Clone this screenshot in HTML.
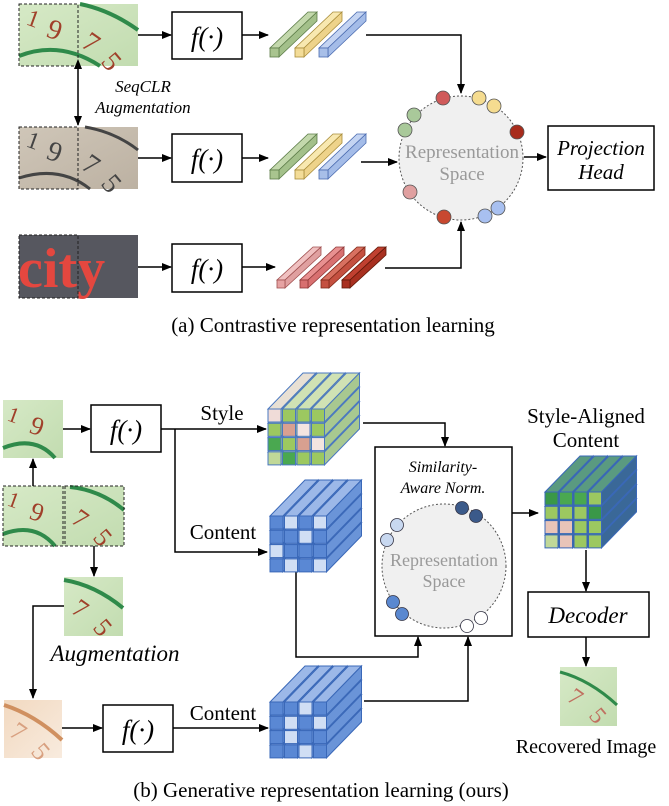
<!DOCTYPE html>
<html><head><meta charset="utf-8"><style>
html,body{margin:0;padding:0;background:#fff}
svg{display:block}
text{font-family:"Liberation Serif",serif}
.it{font-style:italic}
</style></head><body>
<svg width="669" height="806" viewBox="0 0 669 806" xmlns="http://www.w3.org/2000/svg" font-family="Liberation Serif, serif">
<defs>
<marker id="ar" markerWidth="10" markerHeight="8" refX="9" refY="4" orient="auto" markerUnits="userSpaceOnUse"><path d="M0,0 L10,4 L0,8 Z" fill="#000"/></marker>
<marker id="ars" markerWidth="10" markerHeight="8" refX="1" refY="4" orient="auto-start-reverse" markerUnits="userSpaceOnUse"><path d="M0,0 L10,4 L0,8 Z" fill="#000"/></marker>
<g id="pr"><polygon points="0,0 13,0 48,-36 35,-36" fill="var(--t)" stroke="var(--k)" stroke-width="1"/><polygon points="13,0 48,-36 48,-23 13,13" fill="var(--s)" stroke="var(--k)" stroke-width="1"/><rect width="13" height="13" fill="var(--f)" stroke="var(--k)" stroke-width="1"/></g>
<g id="bar"><polygon points="0,0 9,0 47,-36 38,-36" fill="var(--t)" stroke="var(--k)" stroke-width=".8"/><polygon points="9,0 47,-36 47,-27 9,9" fill="var(--s)" stroke="var(--k)" stroke-width=".8"/><rect width="9" height="9" fill="var(--f)" stroke="var(--k)" stroke-width=".8"/></g>
<g id="rbar"><polygon points="0,0 8,0 44,-33 36,-33" fill="var(--t)" stroke="var(--k)" stroke-width=".8"/><polygon points="8,0 44,-33 44,-25 8,8" fill="var(--s)" stroke="var(--k)" stroke-width=".8"/><rect width="8" height="8" fill="var(--f)" stroke="var(--k)" stroke-width=".8"/></g>
<linearGradient id="gimg" x1="0" y1="0" x2="1" y2="1"><stop offset="0" stop-color="#d6e9c6"/><stop offset="1" stop-color="#c2dcb0"/></linearGradient>
<linearGradient id="gimg2" x1="0" y1="0" x2="1" y2="1"><stop offset="0" stop-color="#cfc6b8"/><stop offset="1" stop-color="#bcb1a2"/></linearGradient>
<linearGradient id="gimg3" x1="0" y1="0" x2="1" y2="1"><stop offset="0" stop-color="#f2d9c0"/><stop offset="1" stop-color="#f8ebde"/></linearGradient>
</defs>

<!-- ===== Part (a) ===== -->
<rect x="19" y="4" width="119" height="62" fill="url(#gimg)"/>
<path d="M19,56 Q60,40 100,66" stroke="#2f8a4a" stroke-width="4" fill="none"/>
<path d="M80,4 Q110,10 138,30" stroke="#2f8a4a" stroke-width="4" fill="none"/>
<text x="25" y="24" font-size="24" fill="#a0402a" transform="rotate(20 25 24)">1</text>
<text x="45" y="36" font-size="28" fill="#a0402a" transform="rotate(20 45 36)">9</text>
<text x="80" y="46" font-size="28" fill="#a0402a" transform="rotate(35 80 46)">7</text>
<text x="100" y="62" font-size="28" fill="#a0402a" transform="rotate(50 100 62)">5</text>
<rect x="19" y="4" width="59" height="62" fill="none" stroke="#222" stroke-dasharray="3,2"/>
<rect x="19" y="127" width="119" height="62" fill="url(#gimg2)"/>
<path d="M19,178 Q60,165 90,189" stroke="#444" stroke-width="3" fill="none"/>
<path d="M85,127 Q115,132 138,150" stroke="#444" stroke-width="3" fill="none"/>
<text x="25" y="146" font-size="24" fill="#444" transform="rotate(20 25 146)">1</text>
<text x="45" y="158" font-size="28" fill="#444" transform="rotate(20 45 158)">9</text>
<text x="80" y="168" font-size="28" fill="#444" transform="rotate(35 80 168)">7</text>
<text x="100" y="184" font-size="28" fill="#444" transform="rotate(50 100 184)">5</text>
<rect x="19" y="127" width="59" height="62" fill="none" stroke="#222" stroke-dasharray="3,2"/>
<rect x="19" y="235" width="119" height="63" fill="#56575f"/>
<text x="18" y="287" font-size="56" font-weight="bold" fill="#e4473f">city</text>
<rect x="19" y="235" width="59" height="63" fill="none" stroke="#222" stroke-dasharray="3,2"/>

<line x1="78" y1="68" x2="78" y2="125" stroke="#000" stroke-width="1.5" marker-start="url(#ars)" marker-end="url(#ar)"/>
<text x="143" y="92" font-size="17" class="it" text-anchor="middle">SeqCLR</text>
<text x="143" y="113" font-size="17" class="it" text-anchor="middle">Augmentation</text>

<g fill="#fff" stroke="#000" stroke-width="1.5">
<rect x="172" y="12" width="70" height="47"/>
<rect x="172" y="134" width="70" height="48"/>
<rect x="172" y="244" width="70" height="48"/>
</g>
<g font-size="27" class="it" text-anchor="middle">
<text x="207" y="46">f(·)</text><text x="207" y="168">f(·)</text><text x="207" y="278">f(·)</text>
</g>
<g stroke="#000" stroke-width="1.5" fill="none" marker-end="url(#ar)">
<line x1="138" y1="35" x2="171" y2="35"/>
<line x1="242" y1="35" x2="268" y2="35"/>
<line x1="138" y1="158" x2="171" y2="158"/>
<line x1="242" y1="158" x2="268" y2="158"/>
<line x1="138" y1="267" x2="171" y2="267"/>
<line x1="242" y1="267" x2="275" y2="267"/>
<polyline points="366,35 461,35 461,93"/>
<line x1="361" y1="162" x2="397" y2="162"/>
<polyline points="385,268 461,268 461,222"/>
<line x1="524" y1="157" x2="546" y2="157"/>
</g>
<use href="#bar" x="270" y="48" style="--t:#c3d8ac;--s:#a3c08a;--f:#a9c48f;--k:#5c7c48"/>
<use href="#bar" x="295" y="48" style="--t:#f8e8b0;--s:#eed38a;--f:#f3dc98;--k:#a88c3a"/>
<use href="#bar" x="319" y="48" style="--t:#c4d4f2;--s:#a4bce8;--f:#a8bfe8;--k:#4a6bb0"/>
<use href="#bar" x="270" y="170" style="--t:#c3d8ac;--s:#a3c08a;--f:#a9c48f;--k:#5c7c48"/>
<use href="#bar" x="295" y="170" style="--t:#f8e8b0;--s:#eed38a;--f:#f3dc98;--k:#a88c3a"/>
<use href="#bar" x="319" y="170" style="--t:#c4d4f2;--s:#a4bce8;--f:#a8bfe8;--k:#4a6bb0"/>
<use href="#rbar" x="277" y="280" style="--t:#f0c0c0;--s:#e0a0a0;--f:#e6a3a3;--k:#a05050"/>
<use href="#rbar" x="300" y="280" style="--t:#e89090;--s:#d87070;--f:#d87070;--k:#903838"/>
<use href="#rbar" x="321" y="280" style="--t:#d87060;--s:#c45040;--f:#c45040;--k:#802818"/>
<use href="#rbar" x="342" y="280" style="--t:#c04030;--s:#a83020;--f:#a83020;--k:#601808"/>

<circle cx="461" cy="158" r="62" fill="#f0f0f0" stroke="#555" stroke-width="1" stroke-dasharray="2,2"/>
<text x="462" y="158" font-size="19" fill="#999" text-anchor="middle">Representation</text>
<text x="462" y="180" font-size="19" fill="#999" text-anchor="middle">Space</text>
<g stroke="#555" stroke-width=".8">
<circle cx="443" cy="98" r="7" fill="#d05a5a"/>
<circle cx="479" cy="98" r="7" fill="#f5dc90"/>
<circle cx="494" cy="106" r="7" fill="#f5dc90"/>
<circle cx="517" cy="132" r="7" fill="#a82c1c"/>
<circle cx="414" cy="115" r="7" fill="#a9c99a"/>
<circle cx="405" cy="130" r="7" fill="#a9c99a"/>
<circle cx="410" cy="192" r="7" fill="#e0a0a0"/>
<circle cx="444" cy="217" r="7" fill="#c84830"/>
<circle cx="485" cy="216" r="7" fill="#a8c0f0"/>
<circle cx="498" cy="208" r="7" fill="#a8c0f0"/>
</g>
<rect x="548" y="126" width="106" height="64" fill="#fff" stroke="#000" stroke-width="1.5"/>
<text x="601" y="155" font-size="21" class="it" text-anchor="middle">Projection</text>
<text x="601" y="179" font-size="21" class="it" text-anchor="middle">Head</text>
<text x="333" y="332" font-size="21" text-anchor="middle">(a) Contrastive representation learning</text>

<!-- ===== Part (b) ===== -->
<rect x="3" y="400" width="60" height="58" fill="url(#gimg)"/>
<path d="M3,448 Q35,435 55,458" stroke="#2f8a4a" stroke-width="4" fill="none"/>
<text x="6" y="420" font-size="22" fill="#a0402a" transform="rotate(20 6 420)">1</text>
<text x="28" y="432" font-size="26" fill="#a0402a" transform="rotate(20 28 432)">9</text>
<rect x="3" y="486" width="121" height="60" fill="url(#gimg)"/>
<path d="M3,534 Q35,522 55,546" stroke="#2f8a4a" stroke-width="4" fill="none"/>
<path d="M70,487 Q100,490 124,510" stroke="#2f8a4a" stroke-width="4" fill="none"/>
<text x="6" y="505" font-size="22" fill="#a0402a" transform="rotate(20 6 505)">1</text>
<text x="28" y="518" font-size="26" fill="#a0402a" transform="rotate(20 28 518)">9</text>
<text x="70" y="522" font-size="26" fill="#a0402a" transform="rotate(35 70 522)">7</text>
<text x="92" y="538" font-size="26" fill="#a0402a" transform="rotate(50 92 538)">5</text>
<rect x="3" y="486" width="60" height="60" fill="none" stroke="#222" stroke-dasharray="3,2"/>
<rect x="65" y="486" width="59" height="60" fill="none" stroke="#222" stroke-dasharray="3,2"/>
<rect x="64" y="577" width="59" height="59" fill="url(#gimg)"/>
<path d="M64,580 Q95,585 123,608" stroke="#2f8a4a" stroke-width="4" fill="none"/>
<text x="70" y="612" font-size="26" fill="#a0402a" transform="rotate(35 70 612)">7</text>
<text x="92" y="628" font-size="26" fill="#a0402a" transform="rotate(50 92 628)">5</text>
<rect x="4" y="700" width="58" height="58" fill="url(#gimg3)"/>
<path d="M4,705 Q35,715 62,740" stroke="#d09060" stroke-width="4" fill="none"/>
<text x="8" y="735" font-size="26" fill="#d8a080" transform="rotate(35 8 735)">7</text>
<text x="30" y="752" font-size="26" fill="#d8a080" transform="rotate(50 30 752)">5</text>
<rect x="560" y="667" width="57" height="59" fill="url(#gimg)"/>
<path d="M560,672 Q590,680 617,705" stroke="#2f8a4a" stroke-width="3" fill="none"/>
<text x="566" y="700" font-size="24" fill="#c07060" transform="rotate(35 566 700)">7</text>
<text x="588" y="716" font-size="24" fill="#c07060" transform="rotate(50 588 716)">5</text>

<g fill="#fff" stroke="#000" stroke-width="1.5">
<rect x="91" y="405" width="70" height="47"/>
<rect x="103" y="705" width="70" height="47"/>
<rect x="375" y="447" width="137" height="189"/>
<rect x="528" y="592" width="121" height="45"/>
</g>
<text x="126" y="439" font-size="27" class="it" text-anchor="middle">f(·)</text>
<text x="138" y="739" font-size="27" class="it" text-anchor="middle">f(·)</text>
<text x="588" y="623" font-size="23" class="it" text-anchor="middle">Decoder</text>

<g stroke="#000" stroke-width="1.5" fill="none" marker-end="url(#ar)">
<line x1="63" y1="429" x2="90" y2="429"/>
<line x1="161" y1="429" x2="266" y2="429"/>
<polyline points="175,429 175,552 267,552"/>
<line x1="33" y1="486" x2="33" y2="459"/>
<line x1="94" y1="546" x2="94" y2="576"/>
<polyline points="64,606 33,606 33,698"/>
<line x1="62" y1="728" x2="102" y2="728"/>
<line x1="173" y1="728" x2="268" y2="728"/>
<polyline points="363,423 445,423 445,446"/>
<polyline points="296,572 296,657 418,657 418,637"/>
<polyline points="364,701 468,701 468,637"/>
<line x1="512" y1="513" x2="538" y2="513"/>
<line x1="586" y1="550" x2="586" y2="591"/>
<line x1="586" y1="637" x2="586" y2="666"/>
</g>
<text x="222" y="420" font-size="21" text-anchor="middle">Style</text>
<text x="223" y="539" font-size="21" text-anchor="middle">Content</text>
<text x="223" y="720" font-size="21" text-anchor="middle">Content</text>
<text x="115" y="661" font-size="23" class="it" text-anchor="middle">Augmentation</text>

<text x="443" y="472" font-size="16" class="it" text-anchor="middle">Similarity-</text>
<text x="443" y="493" font-size="16" class="it" text-anchor="middle">Aware Norm.</text>
<ellipse cx="444" cy="566" rx="62" ry="62" fill="#f0f0f0" stroke="#555" stroke-width="1" stroke-dasharray="2,2"/>
<text x="444" y="566" font-size="18" fill="#999" text-anchor="middle">Representation</text>
<text x="444" y="587" font-size="18" fill="#999" text-anchor="middle">Space</text>
<g stroke="#334" stroke-width=".8">
<circle cx="462" cy="508" r="6.5" fill="#3b5a8a"/>
<circle cx="476" cy="516" r="6.5" fill="#3b5a8a"/>
<circle cx="397" cy="525" r="6.5" fill="#c8d8f0"/>
<circle cx="387" cy="540" r="6.5" fill="#c8d8f0"/>
<circle cx="393" cy="602" r="6.5" fill="#5a88d0"/>
<circle cx="402" cy="614" r="6.5" fill="#5a88d0"/>
<circle cx="467" cy="626" r="6.5" fill="#fff"/>
<circle cx="481" cy="618" r="6.5" fill="#fff"/>
</g>
<text x="586" y="423" font-size="21" text-anchor="middle">Style-Aligned</text>
<text x="586" y="447" font-size="21" text-anchor="middle">Content</text>
<text x="586" y="753" font-size="20" text-anchor="middle">Recovered Image</text>
<text x="321" y="797" font-size="21" text-anchor="middle">(b) Generative representation learning (ours)</text>

<!-- cubes: rows bottom->top, cols left->right -->
<g style="--t:#d0e2b4;--s:#a8c890;--k:#4a78c0">
<use href="#pr" x="268" y="451.9" style="--f:#c0d898"/><use href="#pr" x="282.5" y="451.9" style="--f:#4aa850"/><use href="#pr" x="297" y="451.9" style="--f:#9cc860"/><use href="#pr" x="311.5" y="451.9" style="--f:#9cc860"/>
<use href="#pr" x="268" y="437.6" style="--f:#4aa850"/><use href="#pr" x="282.5" y="437.6" style="--f:#9cc860"/><use href="#pr" x="297" y="437.6" style="--f:#d8a090"/><use href="#pr" x="311.5" y="437.6" style="--f:#f4e4e0"/>
<use href="#pr" x="268" y="423.3" style="--f:#9cc860"/><use href="#pr" x="282.5" y="423.3" style="--f:#d8a090"/><use href="#pr" x="297" y="423.3" style="--f:#f4e4e0"/><use href="#pr" x="311.5" y="423.3" style="--f:#9cc860"/>
<use href="#pr" x="268" y="409" style="--f:#f0dcd8;--t:#e8e0d4"/><use href="#pr" x="282.5" y="409" style="--f:#9cc860"/><use href="#pr" x="297" y="409" style="--f:#9cc860"/><use href="#pr" x="311.5" y="409" style="--f:#9cc860"/>
</g>
<g style="--t:#9cb8e8;--s:#6a94d8;--k:#3a68b8;--f:#5a88d4">
<use href="#pr" x="270" y="558.9"/><use href="#pr" x="284.5" y="558.9" style="--f:#d0def4"/><use href="#pr" x="299" y="558.9"/><use href="#pr" x="313.5" y="558.9" style="--f:#d0def4"/>
<use href="#pr" x="270" y="544.6" style="--f:#d0def4"/><use href="#pr" x="284.5" y="544.6"/><use href="#pr" x="299" y="544.6"/><use href="#pr" x="313.5" y="544.6"/>
<use href="#pr" x="270" y="530.3"/><use href="#pr" x="284.5" y="530.3"/><use href="#pr" x="299" y="530.3" style="--f:#d0def4"/><use href="#pr" x="313.5" y="530.3"/>
<use href="#pr" x="270" y="516"/><use href="#pr" x="284.5" y="516" style="--f:#d0def4"/><use href="#pr" x="299" y="516"/><use href="#pr" x="313.5" y="516" style="--f:#d0def4"/>
</g>
<g style="--t:#9cb8e8;--s:#6a94d8;--k:#3a68b8;--f:#5a88d4">
<use href="#pr" x="270" y="744.9"/><use href="#pr" x="284.5" y="744.9"/><use href="#pr" x="299" y="744.9" style="--f:#d0def4"/><use href="#pr" x="313.5" y="744.9"/>
<use href="#pr" x="270" y="730.6"/><use href="#pr" x="284.5" y="730.6" style="--f:#d0def4"/><use href="#pr" x="299" y="730.6"/><use href="#pr" x="313.5" y="730.6"/>
<use href="#pr" x="270" y="716.3"/><use href="#pr" x="284.5" y="716.3" style="--f:#d0def4"/><use href="#pr" x="299" y="716.3"/><use href="#pr" x="313.5" y="716.3" style="--f:#d0def4"/>
<use href="#pr" x="270" y="702"/><use href="#pr" x="284.5" y="702"/><use href="#pr" x="299" y="702" style="--f:#d0def4"/><use href="#pr" x="313.5" y="702"/>
</g>
<g style="--t:#5a9a80;--s:#3a6898;--k:#3a68b8">
<use href="#pr" x="545" y="534.9" style="--f:#c0d898"/><use href="#pr" x="559.5" y="534.9" style="--f:#e8c4b8"/><use href="#pr" x="574" y="534.9" style="--f:#9cc860"/><use href="#pr" x="588.5" y="534.9" style="--f:#9cc860"/>
<use href="#pr" x="545" y="520.6" style="--f:#e8c4b8"/><use href="#pr" x="559.5" y="520.6" style="--f:#e8c4b8"/><use href="#pr" x="574" y="520.6" style="--f:#9cc860"/><use href="#pr" x="588.5" y="520.6" style="--f:#9cc860"/>
<use href="#pr" x="545" y="506.3" style="--f:#9cc860"/><use href="#pr" x="559.5" y="506.3" style="--f:#9cc860"/><use href="#pr" x="574" y="506.3" style="--f:#9cc860"/><use href="#pr" x="588.5" y="506.3" style="--f:#3a9848"/>
<use href="#pr" x="545" y="492" style="--f:#3a9848"/><use href="#pr" x="559.5" y="492" style="--f:#4aa850"/><use href="#pr" x="574" y="492" style="--f:#4aa850"/><use href="#pr" x="588.5" y="492" style="--f:#9cc860"/>
</g>
</svg>
</body></html>
